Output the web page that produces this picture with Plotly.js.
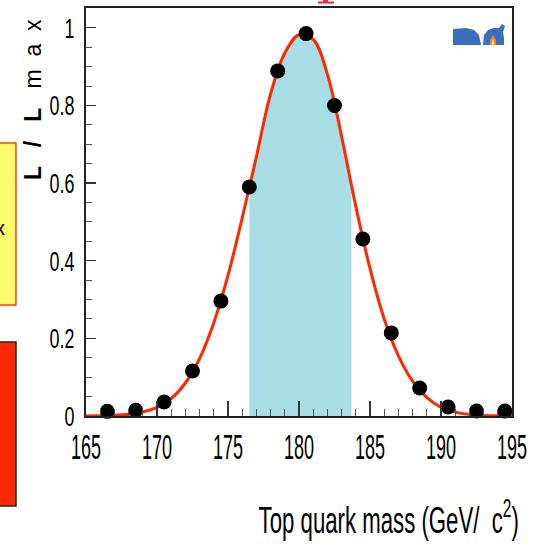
<!DOCTYPE html>
<html>
<head>
<meta charset="utf-8">
<script src="https://cdn.plot.ly/plotly-3.0.1.min.js"></script>
<style>
  html, body { margin: 0; padding: 0; background: #ffffff; }
  #chart { width: 540px; height: 545px; }
</style>
</head>
<body>
<div id="chart"></div>
<script>
// Measured relative likelihood of each top-quark mass hypothesis
const massPoints = [166.5, 168.5, 170.5, 172.5, 174.5, 176.5, 178.5, 180.5,
                    182.5, 184.5, 186.5, 188.5, 190.5, 192.5, 194.5];
const likelihoodPoints = [0.012, 0.015, 0.036, 0.116, 0.296, 0.590, 0.889, 0.985,
                          0.800, 0.456, 0.214, 0.072, 0.023, 0.013, 0.013];

// Smooth fitted likelihood curve
const curveMass = [165, 166, 167, 168, 169, 170, 171, 172, 173, 174, 175, 176, 177, 178, 179, 180,
                   181, 182, 183, 184, 185, 186, 187, 188, 189, 190, 191, 192, 193, 194, 195];
const curveL = [0.0003, 0.0007, 0.0018, 0.0045, 0.0105, 0.0225, 0.045, 0.085, 0.148, 0.240,
                0.362, 0.510, 0.668, 0.830, 0.935, 0.982, 0.970, 0.880, 0.720, 0.540,
                0.380, 0.250, 0.155, 0.090, 0.048, 0.022, 0.010, 0.004, 0.0015, 0.0006, 0.0002];

// One-sigma interval shaded under the curve
const bandMass = [176.5, 177, 178, 179, 180, 181, 182, 183, 183.7];
const bandL = [0.590, 0.668, 0.830, 0.935, 0.982, 0.970, 0.880, 0.720, 0.590];

const xTickVals = [165, 170, 175, 180, 185, 190, 195];
const yTickVals = [0, 0.2, 0.4, 0.6, 0.8, 1];
const yTickText = ['0', '0.2', '0.4', '0.6', '0.8', '1'];

const W = 540, H = 545;
const M = { l: 86, r: 28, t: 8, b: 129 };
const pw = W - M.l - M.r, ph = H - M.t - M.b;
// page pixel -> paper coordinate helpers for decorations
const fx = p => (p - M.l) / pw;
const fy = p => (H - M.b - p) / ph;

const sans = 'Liberation Sans, Arial, Helvetica, sans-serif';

const traces = [
  {
    x: bandMass, y: bandL, type: 'scatter', mode: 'lines',
    line: { width: 0, shape: 'spline' }, fill: 'tozeroy',
    fillcolor: 'rgb(168,221,229)', hoverinfo: 'skip', showlegend: false
  },
  {
    x: curveMass, y: curveL, type: 'scatter', mode: 'lines',
    line: { color: 'rgb(255,40,0)', width: 3, shape: 'spline' }, showlegend: false
  },
  {
    x: massPoints, y: likelihoodPoints, type: 'scatter', mode: 'markers',
    marker: { color: '#000000', size: 15, symbol: 'circle' }, showlegend: false, cliponaxis: false
  }
];

function path(points) {
  return points.map((p, i) => (i ? 'L' : 'M') + fx(p[0]).toFixed(4) + ',' + fy(p[1]).toFixed(4)).join(' ') + ' Z';
}

const shapes = [
  // side panels at the left edge
  { type: 'rect', xref: 'paper', yref: 'paper', x0: fx(-3), x1: fx(16), y0: fy(305), y1: fy(143),
    fillcolor: 'rgb(250,250,110)', line: { color: 'rgb(255,70,0)', width: 1.5 } },
  { type: 'rect', xref: 'paper', yref: 'paper', x0: fx(-3), x1: fx(16), y0: fy(506), y1: fy(342),
    fillcolor: 'rgb(255,40,0)', line: { color: '#222222', width: 1.5 } },
  // red heading glyph foot at the top edge
  { type: 'path', xref: 'paper', yref: 'paper', layer: 'above',
    path: path([[318, 1.5], [334, 1.5], [334, 3.5], [318, 3.5]]),
    fillcolor: 'rgb(255,30,60)', line: { width: 0 } },
  { type: 'path', xref: 'paper', yref: 'paper', layer: 'above',
    path: path([[323, -2], [328, -2], [328, 2], [323, 2]]),
    fillcolor: 'rgb(255,30,60)', line: { width: 0 } },
  // experiment logo (top part)
  { type: 'path', xref: 'paper', yref: 'paper', layer: 'above',
    path: path([[453, 29], [466, 28], [474, 30], [479, 35], [481, 45], [453, 45]]),
    fillcolor: 'rgb(60,110,190)', line: { width: 0 } },
  { type: 'path', xref: 'paper', yref: 'paper', layer: 'above',
    path: path([[483, 45], [484, 35], [488, 30], [494, 28], [499, 28], [502, 24], [505, 26],
                [503, 32], [504, 38], [504, 45]]),
    fillcolor: 'rgb(60,110,190)', line: { width: 0 } },
  { type: 'path', xref: 'paper', yref: 'paper', layer: 'above',
    path: path([[490, 45], [490, 40], [493, 35], [496, 40], [496, 45]]),
    fillcolor: 'rgb(240,140,30)', line: { width: 0 } },
  { type: 'path', xref: 'paper', yref: 'paper', layer: 'above',
    path: path([[492, 45], [492, 42], [493, 39], [494, 42], [494, 45]]),
    fillcolor: 'rgb(255,230,120)', line: { width: 0 } }
];

const annotations = [
  {
    xref: 'paper', yref: 'paper', x: fx(33), y: fy(100), textangle: -90,
    xanchor: 'center', yanchor: 'middle', showarrow: false,
    text: '<b>L   /   L</b>   m  a  x',
    font: { family: sans, size: 23, color: '#000000' }
  },
  {
    xref: 'paper', yref: 'paper', x: fx(521), y: fy(517),
    xanchor: 'right', yanchor: 'middle', showarrow: false,
    text: 'Top quark mass (GeV/  c<sup>2</sup>)',
    font: { family: sans, size: 37, color: '#000000' }
  },
  {
    xref: 'paper', yref: 'paper', x: fx(0), y: fy(228),
    xanchor: 'center', yanchor: 'middle', showarrow: false,
    text: 'x', font: { family: sans, size: 20, color: '#000000' }
  }
];

const layout = {
  width: W, height: H,
  margin: M,
  paper_bgcolor: '#ffffff', plot_bgcolor: '#ffffff',
  showlegend: false,
  xaxis: {
    range: [165, 195], tickvals: xTickVals, ticktext: xTickVals.map(String),
    ticks: 'inside', ticklen: 15, tickwidth: 1.3, tickcolor: '#333333',
    minor: { dtick: 1, tick0: 165, ticks: 'inside', ticklen: 7, tickwidth: 1, tickcolor: '#555555' },
    showline: true, linecolor: '#222222', linewidth: 2, mirror: true,
    showgrid: false, zeroline: false, ticklabeloverflow: 'allow',
    tickfont: { family: sans, size: 36, color: '#000000' }, ticklabelstandoff: -2
  },
  yaxis: {
    range: [0, 1.051], tickvals: yTickVals, ticktext: yTickText,
    ticks: 'inside', ticklen: 10, tickwidth: 1.3, tickcolor: '#333333',
    minor: { dtick: 0.05, tick0: 0, ticks: 'inside', ticklen: 6, tickwidth: 1, tickcolor: '#555555' },
    showline: true, linecolor: '#222222', linewidth: 2, mirror: true,
    showgrid: false, zeroline: false, ticklabeloverflow: 'allow',
    tickfont: { family: sans, size: 28, color: '#000000' }, ticklabelstandoff: 4
  },
  shapes: shapes,
  annotations: annotations
};

// Condense label lettering horizontally (tall, narrow type), keeping each label's anchor fixed
function condense(el, sx, anchor) {
  const b = el.getBBox();
  const cx = b.x + b.width * anchor;
  const cy = b.y + b.height / 2;
  const tr = el.getAttribute('transform') || '';
  el.setAttribute('transform',
    tr + ' translate(' + cx + ',' + cy + ') scale(' + sx + ',1) translate(' + (-cx) + ',' + (-cy) + ')');
}

Plotly.newPlot('chart', traces, layout, { displayModeBar: false, staticPlot: true }).then(() => {
  document.querySelectorAll('#chart .xtick text').forEach(t => condense(t, 0.5, 0.5));
  document.querySelectorAll('#chart .ytick text').forEach(t => condense(t, 0.64, 1));
  const notes = document.querySelectorAll('#chart .annotation-text');
  if (notes[1]) condense(notes[1], 0.6, 1);
});
</script>
</body>
</html>
